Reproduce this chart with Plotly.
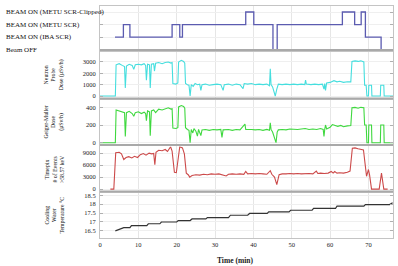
import plotly.graph_objects as go
from plotly.subplots import make_subplots

# ---------------- data ----------------
beam_levels = [0, 1, 2, 3]
beam_labels = ["Beam OFF", "BEAM ON (IBA SCR)", "BEAM ON (METU SCR)", "BEAM ON (METU SCR-Clipped)"]
beam_t = [3.9, 6.1, 7.8, 18.8, 20.8, 21.5, 38.0, 40.1, 45.1, 46.2, 63.2, 66.4, 68.1, 69.2, 73.3, 76.4]
beam_state = [1, 2, 1, 2, 1, 2, 3, 2, 0, 2, 3, 2, 3, 1, 0, 0]

neutron_t = [0, 4.0, 4.2, 5.0, 5.8, 6.4, 6.6, 6.9, 7.6, 8.4, 8.8, 9.2, 10.0, 10.8, 11.5, 11.9, 12.1, 12.4, 12.9,
             13.1, 13.4, 14.0, 14.2, 14.5, 15.3, 16.2, 17.0, 17.8, 18.5, 18.8, 19.0, 19.8, 20.3, 20.5, 21.2, 21.8,
             22.1, 22.3, 22.8, 23.2, 23.5, 23.8, 24.3, 24.8, 25.4, 26.0, 26.3, 26.6, 27.5, 28.5, 29.5, 30.5, 31.5,
             32.1, 32.4, 33.5, 34.5, 35.5, 36.5, 37.3, 37.6, 38.5, 39.5, 40.5, 41.5, 42.5, 43.5, 44.2, 44.4, 44.6,
             45.0, 45.7, 46.1, 46.5, 47.5, 48.5, 49.5, 50.5, 51.5, 52.5, 53.4, 53.6, 53.8, 55.0, 56.0, 57.0, 58.0,
             58.4, 58.6, 58.8, 59.1, 60.0, 61.0, 61.8, 62.5, 63.5, 64.5, 65.4, 65.7, 66.5, 67.3, 68.0, 68.8, 69.0,
             69.4, 69.6, 70.0, 70.1, 70.8, 70.9, 73.1, 73.2, 74.0, 74.1, 76.4]
neutron_v = [0, 0, 2750, 2850, 2700, 2600, 700, 2650, 2800, 2700, 2350, 2750, 2800, 2750, 2850, 2700, 1400, 2800, 2750,
             700, 2800, 2850, 2200, 2900, 2950, 2850, 2950, 3000, 2900, 2950, 1100, 1050, 1150, 3000, 3150, 3050,
             2900, 1100, 1000, 950, 0, 1000, 850, 1100, 1000, 1050, 500, 1000, 1050, 950, 1000, 1050, 1000,
             500, 1000, 1050, 950, 1050, 1000, 650, 1100, 1050, 1100, 1000, 1050, 1000, 1050, 900, 2400, 1000,
             800, 0, 600, 1050, 1000, 1050, 1000, 1050, 1000, 1050, 1000, 1400, 1050, 1000, 1050, 1000, 1050,
             600, 1100, 500, 1150, 1200, 1350, 1250, 1300, 1200, 1250, 1250, 3050, 3100, 3050, 3100, 3000, 950,
             950, 0, 0, 950, 950, 0, 0, 950, 950, 0, 0]

gm_t = [0, 4.0, 4.2, 5.0, 5.8, 6.4, 6.6, 6.9, 7.6, 8.4, 8.8, 9.2, 10.0, 10.8, 11.5, 11.9, 12.1, 12.4, 12.9, 13.1,
        13.4, 14.0, 14.5, 15.3, 16.2, 17.0, 17.8, 18.5, 18.8, 19.0, 19.8, 20.3, 20.5, 21.2, 21.8, 22.1, 22.3, 22.8,
        23.2, 23.5, 23.8, 24.2, 24.5, 25.0, 25.4, 25.7, 26.3, 26.6, 27.5, 28.5, 29.5, 30.5, 31.5, 31.8, 32.1, 33.5,
        34.5, 35.5, 36.5, 37.8, 38.0, 39.5, 40.5, 41.5, 42.5, 43.5, 44.2, 44.4, 44.6, 45.0, 45.9, 46.2, 46.5, 47.5,
        48.5, 49.5, 50.5, 51.5, 52.5, 53.5, 54.5, 55.5, 56.5, 57.5, 58.2, 58.4, 58.6, 58.8, 59.1, 60.0, 60.6, 61.3,
        62.0, 62.8, 63.5, 64.5, 65.4, 65.7, 66.5, 67.3, 68.0, 68.8, 69.0, 69.4, 69.6, 70.0, 70.1, 70.8, 70.9, 73.1,
        73.2, 74.0, 74.1, 76.4]
gm_v = [0, 0, 370, 360, 345, 340, 70, 340, 355, 330, 300, 340, 350, 330, 345, 330, 250, 360, 350, 80,
        360, 370, 340, 380, 370, 385, 395, 380, 385, 165, 160, 170, 405, 420, 410, 390, 170, 150,
        140, 0, 150, 110, 160, 130, 75, 150, 80, 145, 150, 140, 150, 145, 150, 60, 145, 150,
        140, 150, 145, 210, 150, 150, 145, 150, 140, 150, 140, 225, 150, 120, 0, 120, 145, 150,
        145, 155, 150, 150, 155, 160, 150, 155, 150, 160, 150, 70, 150, 200, 155, 175, 205, 195,
        185, 195, 180, 190, 195, 395, 400, 390, 400, 395, 200, 200, 0, 0, 200, 200, 0, 0,
        200, 200, 0, 0]

tpx_t = [2.7, 3.6, 4.1, 5.0, 5.6, 6.2, 6.8, 7.5, 8.3, 9.0, 9.8, 10.5, 11.3, 12.0, 12.8, 13.5, 14.0, 14.3, 14.6,
         15.3, 16.2, 17.0, 17.6, 18.4, 18.8, 19.4, 19.9, 20.4, 20.8, 21.5, 22.0, 22.5, 23.0, 23.4, 24.0, 25.0,
         26.0, 27.0, 28.0, 29.0, 30.0, 31.0, 32.0, 32.9, 33.5, 34.5, 35.5, 36.5, 37.5, 38.0, 38.5, 39.5, 40.5,
         41.5, 42.5, 43.5, 44.4, 44.8, 45.5, 46.1, 46.7, 47.5, 48.5, 49.5, 50.5, 51.5, 52.5, 53.5, 54.5, 55.5,
         56.4, 56.8, 57.5, 58.5, 59.5, 60.3, 60.8, 61.2, 61.8, 62.5, 63.5, 64.5, 65.2, 65.8, 66.5, 67.3, 68.0,
         68.7, 69.1, 69.5, 70.0, 70.3, 70.8, 72.8, 73.4, 74.0, 75.0]
tpx_v = [0, 0, 9100, 9200, 8800, 7400, 7900, 8100, 7800, 8200, 7900, 8600, 8900, 8500, 9000, 8800, 8900, 6100, 9200,
         9700, 9600, 9900, 9400, 10600, 9500, 4200, 4100, 8000, 10600, 10300, 8800, 4000, 3600, 3000, 3400, 3600,
         3500, 3700, 3600, 3800, 3700, 3800, 3600, 3300, 3700, 3800, 3700, 3800, 3700, 4400, 3800, 3900, 3800,
         3900, 3800, 3700, 4600, 3700, 3000, 1100, 3600, 3800, 3800, 3900, 3800, 3900, 3800, 3900, 3900, 3800,
         4500, 3900, 4000, 3900, 4000, 4400, 4000, 4400, 4000, 4100, 4000, 4200, 4500, 10200, 10300, 10100, 9900,
         9800, 6500, 3200, 4900, 3500, 0, 0, 4000, 0, 0]

temp_t = [4.0, 6.2, 7.8, 8.2, 12.2, 12.6, 15.6, 16.0, 20.0, 20.4, 23.5, 24.0, 27.6, 28.0, 33.5, 34.0, 38.5, 39.0,
          43.6, 44.0, 49.3, 49.7, 55.3, 55.7, 61.4, 61.8, 68.8, 69.2, 75.5, 76.3]
temp_v = [16.5, 16.68, 16.68, 16.8, 16.8, 16.9, 16.9, 17.0, 17.0, 17.08, 17.08, 17.17, 17.17, 17.25, 17.25, 17.38,
          17.38, 17.48, 17.48, 17.57, 17.57, 17.66, 17.66, 17.76, 17.76, 17.89, 17.89, 17.98, 17.98, 18.08]

x_ticks = [0, 10, 20, 30, 40, 50, 60, 70]
y_titles = ["Neutron<br>Probe<br>Dose (μSv/h)", "Geiger-Muller<br>Dose<br>(μSv/h)",
            "Timepix<br># of Events<br>>58.57 keV", "Cooling<br>Water<br>Temperature °C"]

# ---------------- figure ----------------
FONT = "Liberation Serif"
fig = make_subplots(rows=5, cols=1, shared_xaxes=True, vertical_spacing=0.01)

fig.add_trace(go.Scatter(x=beam_t, y=beam_state, mode="lines", line=dict(color="#5b5bb0", width=1.3, shape="hv")), row=1, col=1)
fig.add_trace(go.Scatter(x=neutron_t, y=neutron_v, mode="lines", line=dict(color="#45dede", width=1.1)), row=2, col=1)
fig.add_trace(go.Scatter(x=gm_t, y=gm_v, mode="lines", line=dict(color="#3fd83f", width=1.1)), row=3, col=1)
fig.add_trace(go.Scatter(x=tpx_t, y=tpx_v, mode="lines", line=dict(color="#cc4a4a", width=1.1)), row=4, col=1)
fig.add_trace(go.Scatter(x=temp_t, y=temp_v, mode="lines", line=dict(color="#333333", width=1.2)), row=5, col=1)

domains = [[0.8103, 1.0], [0.6013, 0.8017], [0.4009, 0.5948], [0.2004, 0.3944], [0.0, 0.194]]
yranges = [[-0.03, 3.48], [-220, 3880], [-26, 483], [-600, 10650], [16.1, 18.63]]
yticks = [beam_levels, [0, 1000, 2000, 3000], [0, 200, 400], [0, 3000, 6000, 9000], [16.5, 17, 17.5, 18, 18.5]]
yticktexts = [None, None, None, None, ["16.5", "17", "17.5", "18", "18.5"]]

for i in range(5):
    sfx = "" if i == 0 else str(i + 1)
    yax = dict(domain=domains[i], range=yranges[i], tickvals=yticks[i],
               showline=True, mirror="ticks", linecolor="#c4c4c4", linewidth=1,
               ticks="inside", ticklen=3, tickcolor="#b0b0b0",
               showgrid=True, gridcolor="#efefef", gridwidth=1, zeroline=False,
               tickfont=dict(family=FONT, size=6.5, color="#222"), ticklabelstandoff=2)
    if i == 0:
        yax["showticklabels"] = False
    if yticktexts[i]:
        yax["ticktext"] = yticktexts[i]
    fig.layout["yaxis" + sfx].update(yax)
    xax = dict(range=[0, 76.4], tickvals=x_ticks, showline=True, mirror=True,
               linecolor="#c4c4c4", linewidth=1, ticks="", showgrid=True,
               gridcolor="#e6e6e6", gridwidth=1, zeroline=False,
               tickfont=dict(family=FONT, size=6.5, color="#222"))
    if i < 4:
        xax["showticklabels"] = False
    fig.layout["xaxis" + sfx].update(xax)
    if i < 4:
        fig.add_shape(type="line", xref=("x" + sfx + " domain"), yref=("y" + sfx + " domain"),
                      x0=0, x1=1, y0=0, y1=0, line=dict(color="#a9a9a9", width=2))

# beam state labels (left aligned)
for lvl, lab in zip(beam_levels, beam_labels):
    fig.add_annotation(x=-0.3285, xref="paper", y=lvl, yref="y", text=lab, showarrow=False,
                       xanchor="left", yanchor="middle", font=dict(family=FONT, size=7, color="#111"))

# rotated y titles
for i, txt in enumerate(y_titles):
    d = domains[i + 1]
    fig.add_annotation(x=-0.1566, xref="paper", y=(d[0] + d[1]) / 2, yref="paper", text=txt,
                       textangle=-90, showarrow=False, xanchor="center", yanchor="middle",
                       font=dict(family=FONT, size=5.8, color="#111"))

fig.add_annotation(x=0.461, xref="paper", y=-0.098, yref="paper", text="<b>Time (min)</b>",
                   showarrow=False, xanchor="center", yanchor="middle",
                   font=dict(family=FONT, size=7.5, color="#222"))

fig.update_layout(width=398, height=266, margin=dict(l=99.5, r=4.7, t=6, b=28),
                  showlegend=False, paper_bgcolor="white", plot_bgcolor="white")

fig.write_html("out.html")
